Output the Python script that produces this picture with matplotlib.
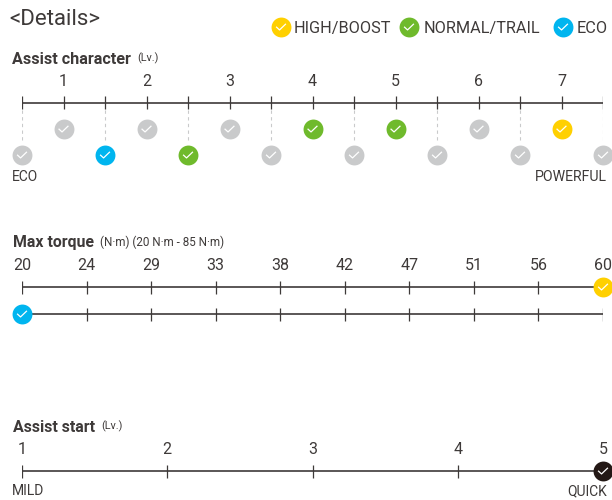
import matplotlib
matplotlib.use('Agg')
import matplotlib.pyplot as plt
from matplotlib.path import Path

plt.rcParams['font.family'] = ['Roboto', 'DejaVu Sans']

# Data
legend_names = ['HIGH/BOOST', 'NORMAL/TRAIL', 'ECO']
legend_x = [281, 409, 563]

char_ticks = [0.5, 1, 1.5, 2, 2.5, 3, 3.5, 4, 4.5, 5, 5.5, 6, 6.5, 7, 7.5]
char_labels = ['1', '2', '3', '4', '5', '6', '7']
char_modes = ['off', 'off', 'eco', 'off', 'normal', 'off', 'off', 'normal',
              'off', 'normal', 'off', 'off', 'off', 'high', 'off']

torque_labels = ['20', '24', '29', '33', '38', '42', '47', '51', '56', '60']
torque_high = 60
torque_eco = 20

start_labels = ['1', '2', '3', '4', '5']
start_value = 5

colors = {'off': '#c9cacb', 'eco': '#00b5ef', 'normal': '#6fba2c',
          'high': '#ffd000', 'dark': '#231815'}
text_color = '#3e3a39'
line_color = '#3e3a39'
check = Path([(-1, 0.05), (-0.3, -0.6), (1, 0.65)])

fig = plt.figure(figsize=(6.12, 5), dpi=100)
fig.patch.set_facecolor('white')


# y is in image pixels, x is in the scale's own units
def scale_axes(xmin, xmax):
    ax = fig.add_axes([22 / 612, 0, 581 / 612, 1])
    ax.set_xlim(xmin, xmax)
    ax.set_ylim(500, 0)
    ax.axis('off')
    return ax


def badge(ax, x, y, color):
    ax.scatter([x], [y], s=205, c=color, linewidths=0, zorder=5, clip_on=False)
    ax.scatter([x], [y], s=50, marker=check, facecolors='none', edgecolors='white',
               linewidths=0.9, zorder=6, clip_on=False)


def ruler(ax, ticks, y, half=6.5):
    ax.hlines(y, ticks[0], ticks[-1], color=line_color, lw=1.2, zorder=2)
    ax.vlines(ticks, y - half, y + half, color=line_color, lw=0.9, zorder=2)


# Page text and legend
page = fig.add_axes([0, 0, 1, 1])
page.set_xlim(0, 612)
page.set_ylim(500, 0)
page.axis('off')
page.text(9, 19.5, '<Details>', fontsize=16, color=text_color, va='center')
for name, x, key, dx in zip(legend_names, legend_x, ['high', 'normal', 'eco'], [13, 15, 14]):
    badge(page, x, 27, colors[key])
    page.text(x + dx, 28.5, name, fontsize=11.7, color=text_color, va='center')

page.text(12, 59, 'Assist character', fontsize=11.6, fontweight='bold', color=text_color, va='center')
page.text(137, 58, '(Lv.)', fontsize=7.8, color=text_color, va='center')
page.text(13, 243, 'Max torque', fontsize=11.4, fontweight='bold', color=text_color, va='center')
page.text(100, 242, '(N·m) (20 N·m - 85 N·m)', fontsize=8.4, color=text_color, va='center')
page.text(13, 427, 'Assist start', fontsize=11.5, fontweight='bold', color=text_color, va='center')
page.text(101, 426, '(Lv.)', fontsize=7.8, color=text_color, va='center')

page.text(12, 177, 'ECO', fontsize=10, color=text_color, va='center')
page.text(607, 177, 'POWERFUL', fontsize=10.2, color=text_color, va='center', ha='right')
page.text(12, 491, 'MILD', fontsize=10, color=text_color, va='center')
page.text(607, 491, 'QUICK', fontsize=10, color=text_color, va='center', ha='right')

# Assist character
ax1 = scale_axes(char_ticks[0], char_ticks[-1])
ruler(ax1, char_ticks, 102.5)
for lv, mode in zip(char_ticks, char_modes):
    if lv == int(lv):
        ax1.text(lv, 81, char_labels[int(lv) - 1], fontsize=11.5, color=text_color,
                 ha='center', va='center')
        badge(ax1, lv, 129, colors[mode])
    else:
        ax1.vlines(lv, 110, 141, color='#c9cacb', lw=0.8, linestyles=(0, (3, 3)), zorder=1)
        badge(ax1, lv, 155, colors[mode])

# Max torque, labels are evenly spaced
pos = list(range(len(torque_labels)))
ax2 = scale_axes(pos[0], pos[-1])
ruler(ax2, pos, 287)
ruler(ax2, pos, 314)
for p, lab in zip(pos, torque_labels):
    ax2.text(p, 265, lab, fontsize=11.5, color=text_color, ha='center', va='center')
badge(ax2, torque_labels.index(str(torque_high)), 287, colors['high'])
badge(ax2, torque_labels.index(str(torque_eco)), 314, colors['eco'])

# Assist start
start_pos = [int(s) for s in start_labels]
ax3 = scale_axes(start_pos[0], start_pos[-1])
ruler(ax3, start_pos, 471)
for p, lab in zip(start_pos, start_labels):
    ax3.text(p, 450, lab, fontsize=11.5, color=text_color, ha='center', va='center')
badge(ax3, start_value, 471, colors['dark'])

plt.savefig('out.png', dpi=100)
